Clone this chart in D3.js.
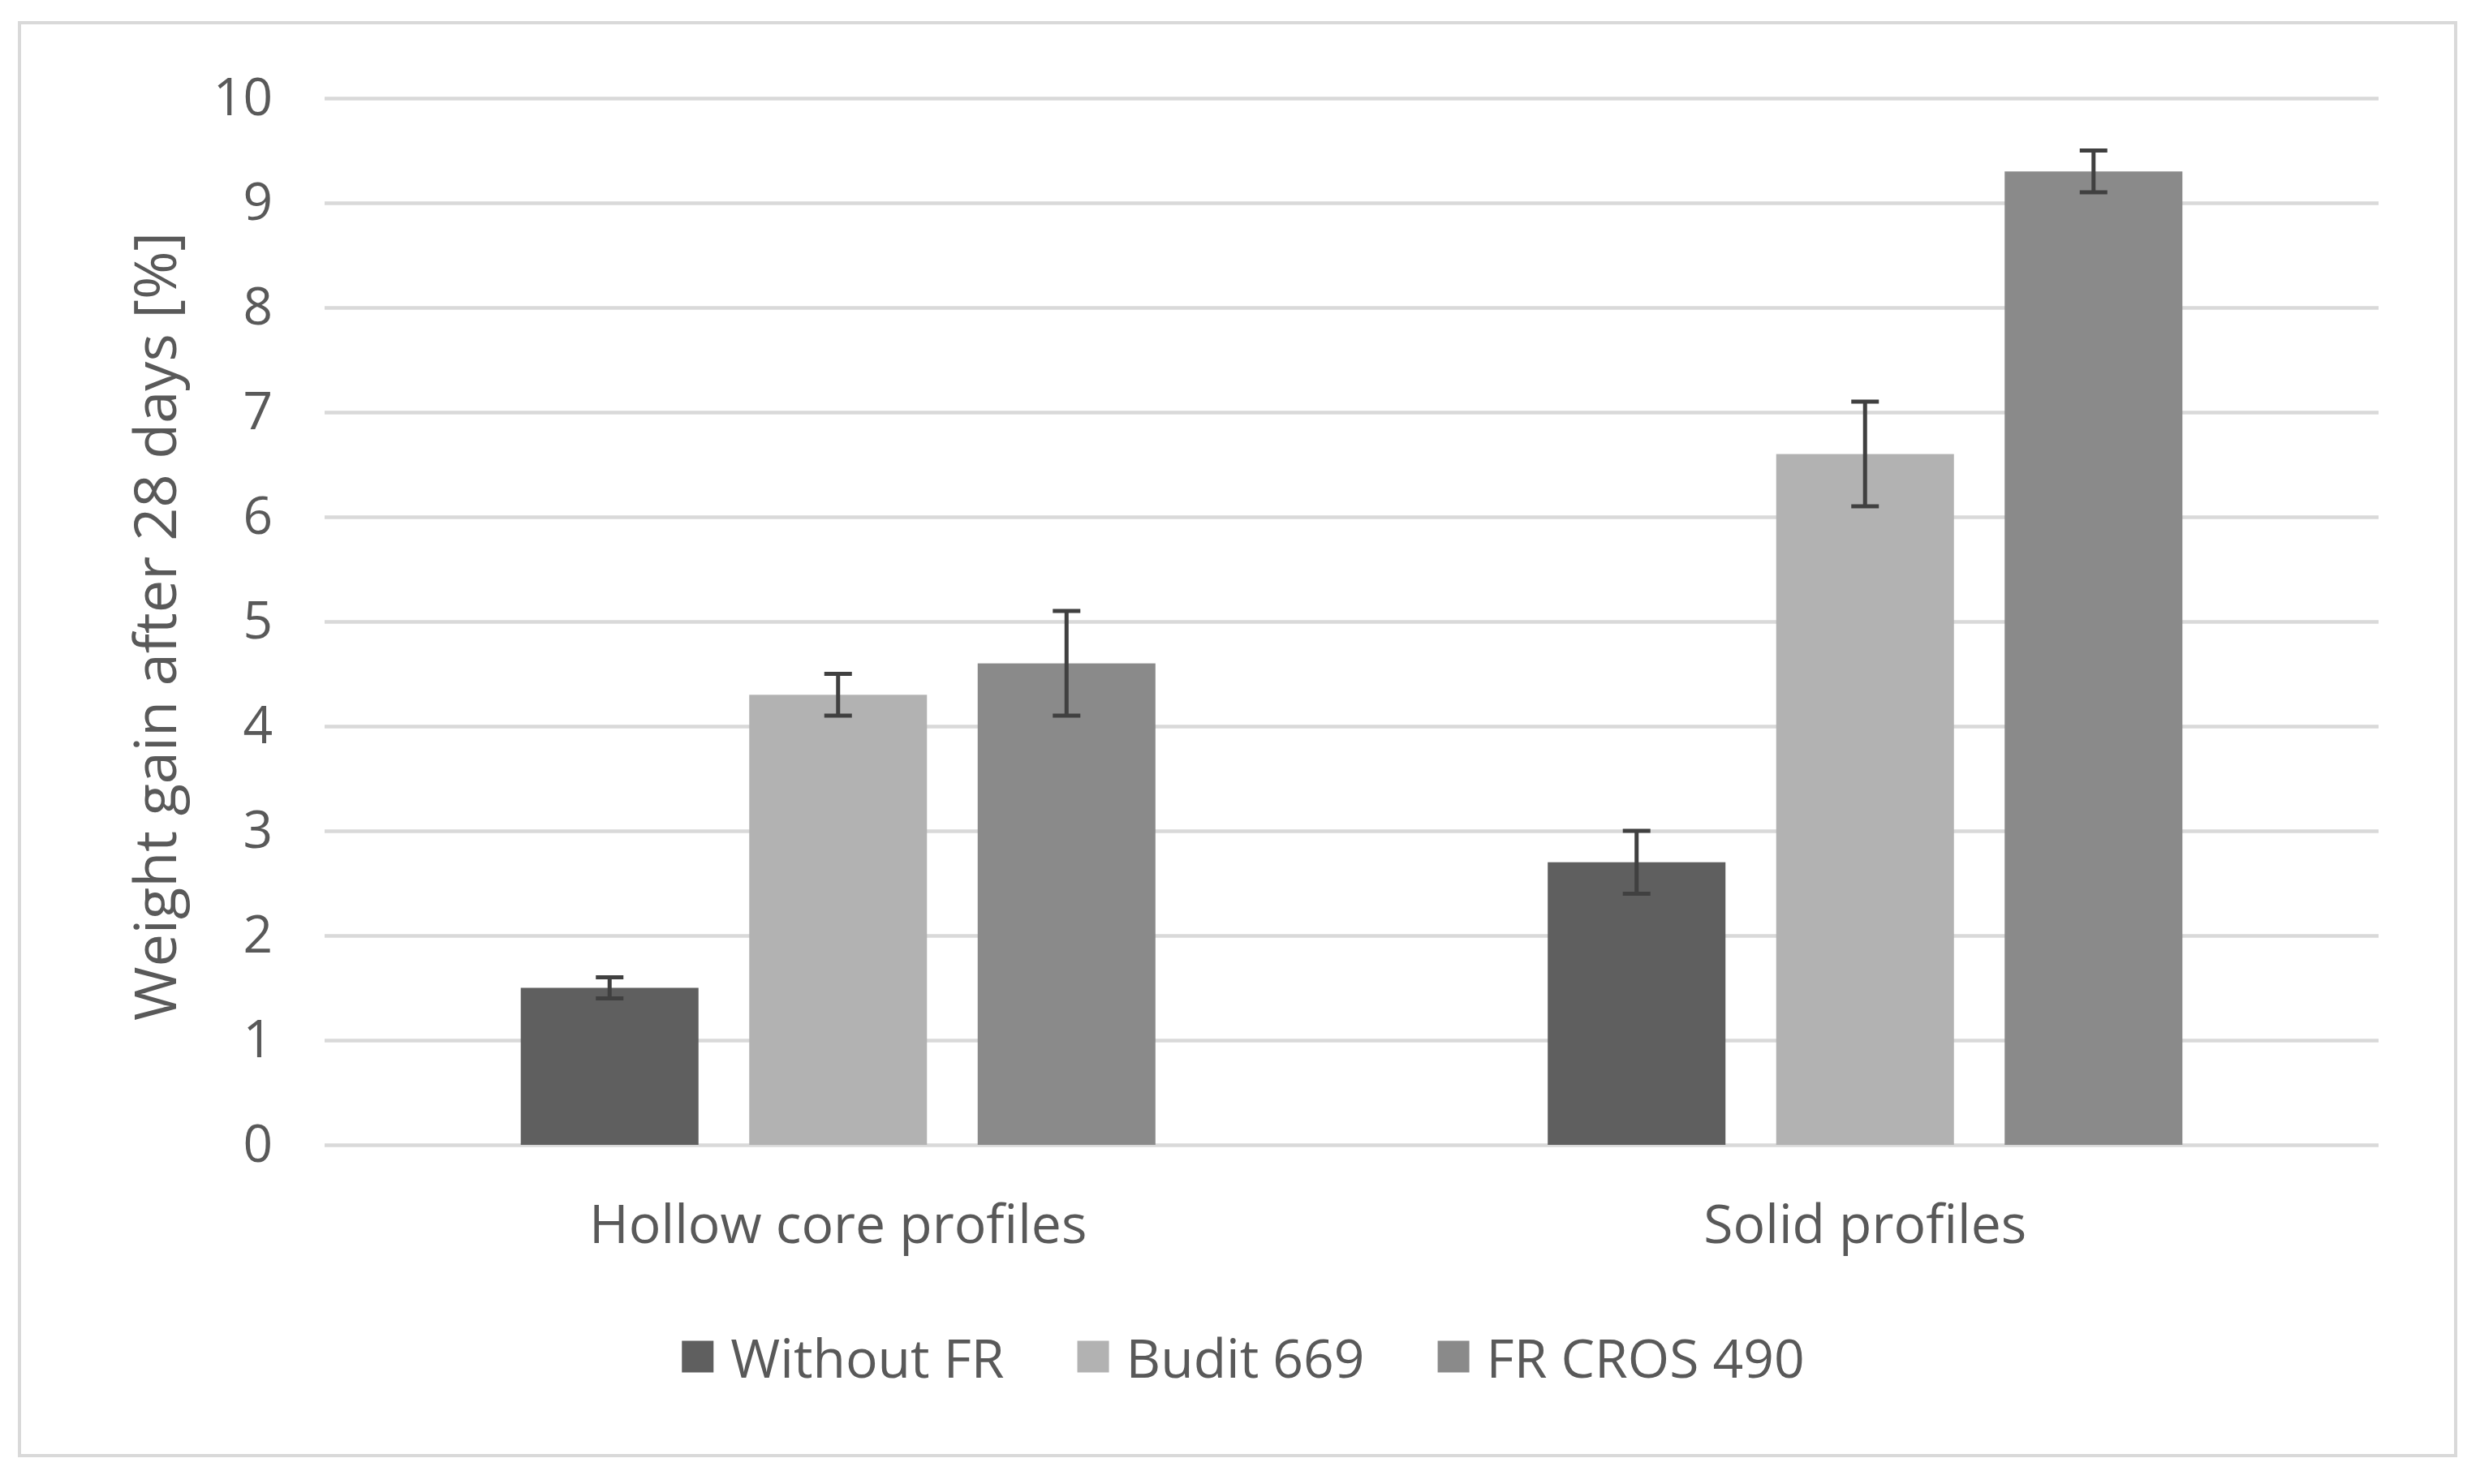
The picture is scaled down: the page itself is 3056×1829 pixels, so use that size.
<!DOCTYPE html>
<html>
<head>
<meta charset="utf-8">
<script src="https://cdn.jsdelivr.net/npm/d3@7"></script>
<style>
  html, body { margin: 0; padding: 0; background: #ffffff; }
  svg { display: block; font-family: "Open Sans", "DejaVu Sans", sans-serif; }
</style>
</head>
<body>
<svg id="chart" width="3056" height="1829"></svg>
<script>
// ---- data ----
const categories = ["Hollow core profiles", "Solid profiles"];
const seriesNames = ["Without FR", "Budit 669", "FR CROS 490"];
const withoutFR = [1.5, 2.7];
const budit669 = [4.3, 6.6];
const frCros490 = [4.6, 9.3];
const errWithoutFR = [0.1, 0.3];
const errBudit669 = [0.2, 0.5];
const errFrCros490 = [0.5, 0.2];
const yTickValues = [0, 1, 2, 3, 4, 5, 6, 7, 8, 9, 10];
const seriesColors = ["#5f5f5f", "#b2b2b2", "#8a8a8a"];
const yTitle = "Weight gain after 28 days [%]";

const seriesValues = [withoutFR, budit669, frCros490];
const seriesErrors = [errWithoutFR, errBudit669, errFrCros490];

// ---- layout ----
const W = 3056, H = 1829;
const plot = { left: 400, right: 2931, top: 121, bottom: 1411 };
const textColor = "#595959";
const gridColor = "#d9d9d9";

const svg = d3.select("#chart");
svg.append("rect").attr("x", 0).attr("y", 0).attr("width", W).attr("height", H).attr("fill", "#ffffff");

// frame
svg.append("rect")
  .attr("x", 24).attr("y", 28).attr("width", 3002).attr("height", 1766)
  .attr("fill", "none").attr("stroke", gridColor).attr("stroke-width", 4);

const y = d3.scaleLinear().domain([0, 10]).range([plot.bottom, plot.top]);
const x0 = d3.scaleBand().domain(categories).range([plot.left, plot.right]).paddingInner(0).paddingOuter(0);
const groupW = x0.bandwidth() * 0.618;
const x1 = d3.scaleBand().domain(seriesNames).range([0, groupW]).paddingInner(0.222).paddingOuter(0);

// gridlines via axis
const yAxis = d3.axisLeft(y).tickValues(yTickValues).tickSize(-(plot.right - plot.left)).tickPadding(64).tickFormat(d3.format("d"));
const gAxis = svg.append("g").attr("transform", `translate(${plot.left},0)`).call(yAxis);
gAxis.select(".domain").remove();
gAxis.selectAll(".tick line").attr("stroke", gridColor).attr("stroke-width", 4.5);
gAxis.selectAll(".tick text")
  .attr("fill", textColor).attr("font-size", 64)
  .attr("font-family", '"Open Sans", sans-serif');

// bars
const groups = svg.append("g").selectAll("g")
  .data(categories)
  .join("g")
  .attr("transform", d => `translate(${x0(d) + (x0.bandwidth() - groupW) / 2},0)`);

groups.each(function(cat, ci) {
  const g = d3.select(this);
  seriesNames.forEach((s, si) => {
    const v = seriesValues[si][ci];
    g.append("rect")
      .attr("x", x1(s)).attr("width", x1.bandwidth())
      .attr("y", y(v)).attr("height", y(0) - y(v))
      .attr("fill", seriesColors[si]);
  });
  seriesNames.forEach((s, si) => {
    const v = seriesValues[si][ci];
    const e = seriesErrors[si][ci];
    const cx = x1(s) + x1.bandwidth() / 2;
    const capW = 34;
    const eg = g.append("g").attr("stroke", "#404040").attr("stroke-width", 5);
    eg.append("line").attr("x1", cx).attr("x2", cx).attr("y1", y(v + e)).attr("y2", y(v - e));
    eg.append("line").attr("x1", cx - capW / 2).attr("x2", cx + capW / 2).attr("y1", y(v + e)).attr("y2", y(v + e));
    eg.append("line").attr("x1", cx - capW / 2).attr("x2", cx + capW / 2).attr("y1", y(v - e)).attr("y2", y(v - e));
  });
});

// category labels
const xAxis = d3.axisBottom(x0).tickSize(0).tickPadding(0);
const gx = svg.append("g").attr("transform", `translate(0,${plot.bottom})`).call(xAxis);
gx.select(".domain").remove();
gx.selectAll(".tick text")
  .attr("fill", textColor).attr("font-size", 66)
  .attr("font-family", '"Open Sans", sans-serif')
  .attr("dy", null).attr("y", 121);

// y title
svg.append("text")
  .attr("transform", `translate(189,${(plot.top + plot.bottom) / 2 + 6}) rotate(-90)`)
  .attr("text-anchor", "middle").attr("dominant-baseline", "central")
  .attr("fill", textColor).attr("font-size", 72)
  .text(yTitle);

// legend
const legend = svg.append("g");
const sq = 39, sqGap = 21, itemGap = 90;
let lx = 0;
seriesNames.forEach((s, i) => {
  const it = legend.append("g");
  it.append("rect").attr("x", 0).attr("y", -sq / 2).attr("width", sq).attr("height", sq).attr("fill", seriesColors[i]);
  const t = it.append("text").attr("x", sq + sqGap).attr("y", 0).attr("dominant-baseline", "central")
    .attr("fill", textColor).attr("font-size", 66).text(s);
  const w = sq + sqGap + t.node().getComputedTextLength();
  it.attr("transform", `translate(${lx},0)`);
  lx += w + itemGap;
});
const totalW = lx - itemGap;
legend.attr("transform", `translate(${1532 - totalW / 2},1672)`);
</script>
</body>
</html>
